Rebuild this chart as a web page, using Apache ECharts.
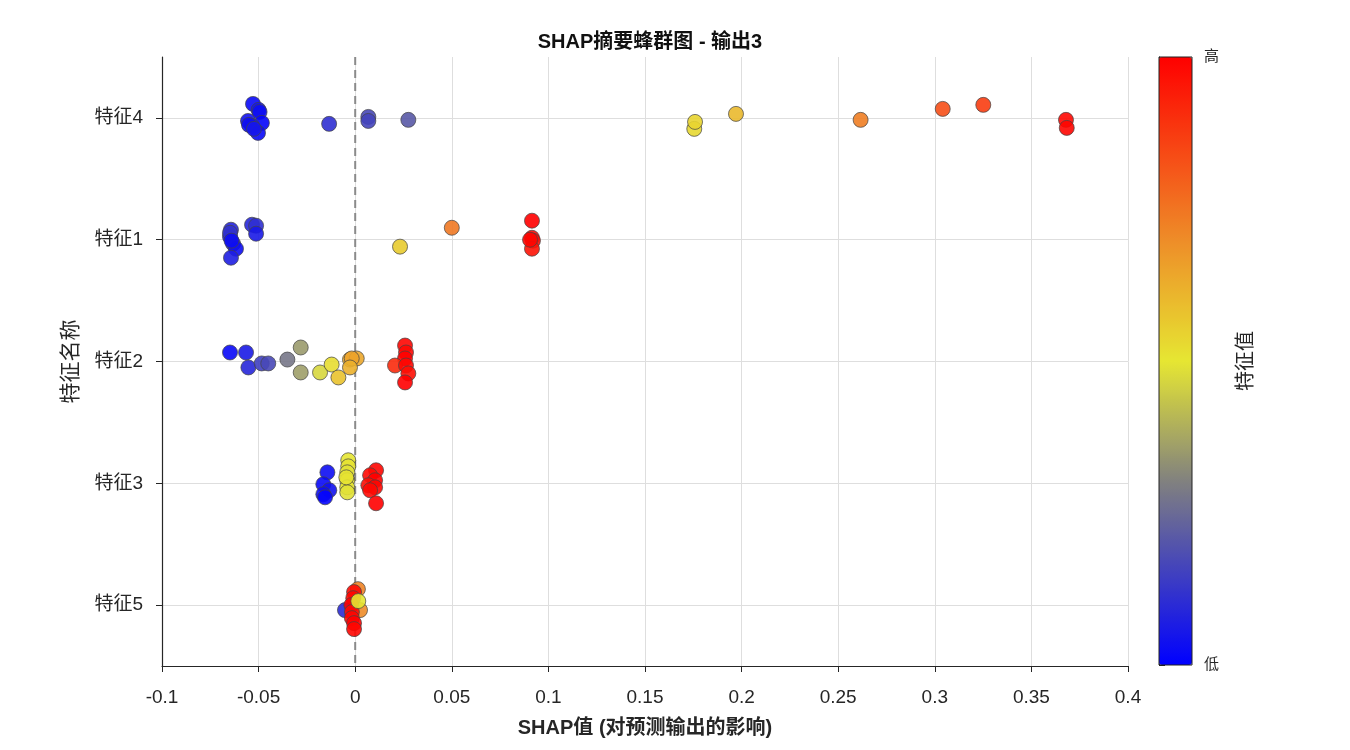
<!DOCTYPE html>
<html>
<head>
<meta charset="utf-8">
<script src="https://cdn.jsdelivr.net/npm/echarts@6/dist/echarts.min.js"></script>
<style>html,body{margin:0;padding:0;background:#fff}#c{width:1350px;height:750px}</style>
</head>
<body>
<div id="c"></div>
<script>
// Categories (top to bottom)
const featureNames = ['特征4', '特征1', '特征2', '特征3', '特征5'];
const xTicks = [-0.1, -0.05, 0, 0.05, 0.1, 0.15, 0.2, 0.25, 0.3, 0.35, 0.4];

// 特征4
const shap4 = [-0.0529,-0.0500,-0.0495,-0.0555,-0.0483,-0.0534,-0.0550,-0.0503,-0.0524,-0.0135,0.0068,0.0068,0.0275,0.1755,0.1759,0.1971,0.2616,0.3041,0.3251,0.3679,0.3683];
const jit4  = [-0.115,-0.066,-0.049,0.025,0.041,0.066,0.057,0.123,0.090,0.049,-0.008,0.025,0.016,0.090,0.033,-0.033,0.016,-0.074,-0.107,0.016,0.082];
const val4  = [0.02,0.05,0.03,0.04,0.01,0.06,0.03,0.02,0.05,0.11,0.17,0.16,0.21,0.53,0.54,0.60,0.73,0.83,0.87,0.98,0.99];
// 特征1
const shap1 = [-0.0643,-0.0648,-0.0632,-0.0617,-0.0643,-0.0648,-0.0534,-0.0513,-0.0513,-0.0640,0.0232,0.0500,0.0915,0.0915,0.0920,0.0915,0.0905];
const jit1  = [-0.082,-0.025,0.033,0.074,0.148,-0.057,-0.123,-0.115,-0.049,0.008,0.057,-0.098,-0.156,-0.016,0.008,0.074,0.000];
const val1  = [0.08,0.06,0.10,0.03,0.07,0.12,0.09,0.11,0.06,0.03,0.56,0.74,1.0,0.98,0.97,0.96,0.99];
// 特征2
const shap2 = [-0.0648,-0.0565,-0.0553,-0.0484,-0.0450,-0.0351,-0.0282,-0.0282,-0.0182,-0.0122,-0.0087,-0.0027,0.0008,-0.0018,-0.0027,0.0258,0.0263,0.0258,0.0206,0.0263,0.0275,0.0258];
const jit2  = [-0.074,-0.074,0.049,0.016,0.016,-0.016,-0.115,0.090,0.090,0.025,0.131,-0.016,-0.025,-0.025,0.049,-0.131,-0.074,-0.025,0.033,0.033,0.098,0.172];
const val2  = [0.02,0.06,0.09,0.15,0.17,0.28,0.35,0.36,0.47,0.52,0.58,0.63,0.64,0.65,0.62,0.99,0.98,1.0,0.91,0.99,0.97,1.0];
// 特征3
const shap3 = [-0.0144,-0.0165,-0.0134,-0.0165,-0.0156,-0.0036,-0.0036,-0.0041,-0.0041,-0.0041,-0.0041,-0.0046,0.0108,0.0077,0.0103,0.0068,0.0103,0.0077,0.0108];
const jit3  = [-0.090,0.008,0.057,0.090,0.115,-0.189,-0.139,-0.090,-0.025,0.033,0.074,-0.049,-0.107,-0.066,-0.025,0.016,0.033,0.057,0.164];
const val3  = [0.03,0.02,0.04,0.03,0.01,0.50,0.51,0.49,0.50,0.50,0.49,0.51,0.99,0.98,1.0,0.97,0.99,0.98,1.0];
// 特征5
const shap5 = [-0.0053,0.0025,0.0014,-0.0006,-0.0010,-0.0020,-0.0017,-0.0017,-0.0006,-0.0006,0.0016];
const jit5  = [0.041,0.041,-0.131,-0.107,-0.057,0.000,0.057,0.107,0.148,0.197,-0.033];
const val5  = [0.10,0.70,0.72,0.98,0.99,1.0,0.98,0.99,1.0,0.99,0.50];

const groups = [[shap4, jit4, val4], [shap1, jit1, val1], [shap2, jit2, val2], [shap3, jit3, val3], [shap5, jit5, val5]];
const points = [];
groups.forEach(function (g, i) {
  g[0].forEach(function (s, k) { points.push([s, i + 1 + g[1][k], g[2][k]]); });
});

const FONT = "'Liberation Sans', 'Noto Sans CJK SC', sans-serif";
const TXT = '#262626';
const catPos = featureNames.map(function (_, i) { return i + 1; });

const chart = echarts.init(document.getElementById('c'));
chart.setOption({
  backgroundColor: '#fff',
  animation: false,
  textStyle: { fontFamily: FONT },
  title: {
    text: 'SHAP摘要蜂群图 - 输出3',
    left: 645, top: 27, textAlign: 'center',
    textStyle: { fontFamily: FONT, fontSize: 20, fontWeight: 'bold', color: '#111' }
  },
  grid: [
    { left: 162, right: 222, top: 57, bottom: 84, containLabel: false },
    { left: 1159, width: 33, top: 57, height: 608, show: true, z: 10, backgroundColor: 'rgba(0,0,0,0)', borderColor: '#222', borderWidth: 1 }
  ],
  xAxis: [
    {
      type: 'value', gridIndex: 0, min: -0.1, max: 0.4, interval: 0.05,
      name: 'SHAP值 (对预测输出的影响)', nameLocation: 'middle', nameGap: 52,
      nameTextStyle: { fontFamily: FONT, fontSize: 20, fontWeight: 'bold', color: TXT },
      axisLine: { show: true, onZero: false, lineStyle: { color: TXT, width: 1.2 } },
      axisTick: { show: true, inside: false, length: 6, lineStyle: { color: TXT } },
      axisLabel: { fontFamily: FONT, fontSize: 19, color: TXT, margin: 22, customValues: xTicks,
        formatter: function (v) { return String(Math.round(v * 1000) / 1000); } },
      splitLine: { show: true, lineStyle: { color: '#dedede', width: 1 } }
    },
    { type: 'value', gridIndex: 1, min: 0, max: 1, show: false }
  ],
  yAxis: [
    {
      type: 'value', gridIndex: 0, min: 0.5, max: 5.5, inverse: true,
      name: '特征名称', nameLocation: 'middle', nameGap: 80, nameRotate: 90,
      nameTextStyle: { fontFamily: FONT, fontSize: 21, color: TXT },
      axisLine: { show: true, onZero: false, lineStyle: { color: TXT, width: 1.2 } },
      axisTick: { show: true, inside: false, length: 6, customValues: catPos, lineStyle: { color: TXT } },
      axisLabel: { fontFamily: FONT, fontSize: 19, color: TXT, margin: 19, customValues: catPos,
        formatter: function (v) { return featureNames[Math.round(v) - 1] || ''; } },
      splitLine: { show: true, lineStyle: { color: '#dedede', width: 1 } }
    },
    {
      type: 'value', gridIndex: 1, min: 0, max: 1, interval: 1, position: 'right',
      name: '特征值', nameLocation: 'middle', nameGap: 44, nameRotate: 90,
      nameTextStyle: { fontFamily: FONT, fontSize: 20, color: TXT },
      axisLine: { show: true, lineStyle: { color: '#222' } },
      axisTick: { show: true, inside: false, length: 6, lineStyle: { color: '#222' } },
      axisLabel: { fontFamily: FONT, fontSize: 15, color: TXT, margin: 12,
        formatter: function (v) { return v >= 1 ? '高' : '低'; } },
      splitLine: { show: false }
    }
  ],
  visualMap: {
    type: 'continuous', min: 0, max: 1, dimension: 2, seriesIndex: 1,
    calculable: false, hoverLink: false, show: true,
    left: 1159, top: 57, itemWidth: 33, itemHeight: 608, padding: 0,
    text: null, showLabel: false,
    inRange: { color: ['#0000ff', '#2b2bd5', '#5555aa', '#808080', '#b3b359', '#e6e632', '#eab92d', '#ee8c28', '#f45d1b', '#f92f0d', '#ff0000'] }
  },
  series: [
    {
      type: 'line', xAxisIndex: 0, yAxisIndex: 0, z: 1,
      data: [[0, 0.5], [0, 5.5]], showSymbol: false, symbol: 'none', silent: true,
      lineStyle: { color: '#8a8a8a', width: 2, type: [8, 5] }
    },
    {
      type: 'scatter', xAxisIndex: 0, yAxisIndex: 0, z: 2,
      data: points, symbolSize: 15,
      itemStyle: { borderColor: '#444', borderWidth: 0.8, opacity: 0.9 }
    }
  ]
});
</script>
</body>
</html>
